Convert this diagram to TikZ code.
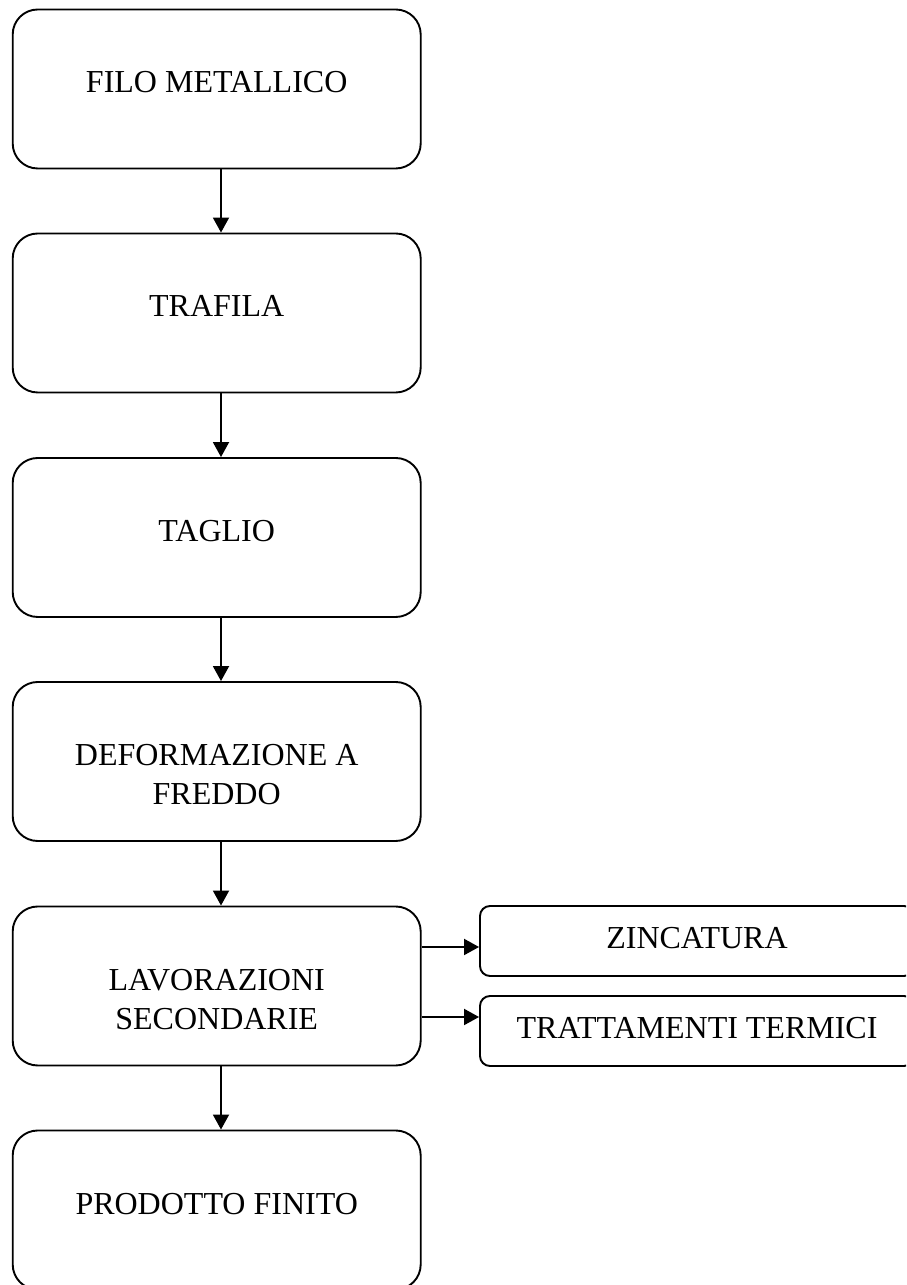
\documentclass[tikz,border=0pt]{standalone}
\usepackage{fontspec}
\setmainfont{Liberation Serif}
\usetikzlibrary{arrows.meta,calc}
\begin{document}
\begin{tikzpicture}[x=1pt,y=1pt,
  mainbox/.style={draw, line width=1.9pt, rounded corners=25pt, minimum width=408pt, minimum height=159pt, inner sep=0pt},
  sidebox/.style={draw, line width=1.9pt, rounded corners=10pt, minimum width=434pt, minimum height=70pt, inner sep=0pt, text height=16pt, text depth=0pt},
  txt/.style={inner sep=0pt, align=center, anchor=base},
  arr/.style={line width=1.9pt, -{Triangle[width=16pt,length=15pt]}},
  every node/.style={font=\fontsize{32}{39}\selectfont}
]
\clip (0,0) rectangle (906,1285);
\fill[white] (0,0) rectangle (906,1285);

\node[mainbox] (b1) at (216.7,1196) {};
\node[mainbox] (b2) at (216.7,972) {};
\node[mainbox] (b3) at (216.7,747.5) {};
\node[mainbox] (b4) at (216.7,523.5) {};
\node[mainbox] (b5) at (216.7,299) {};
\node[mainbox] (b6) at (216.7,75) {};

\node[txt] (t1) at ([yshift=-84pt]b1.north) {FILO METALLICO};
\node[txt] (t2) at ([yshift=-84pt]b2.north) {TRAFILA};
\node[txt] (t3) at ([yshift=-84pt]b3.north) {TAGLIO};
\node[txt] (t4) at ([yshift=-123pt]b4.north) {DEFORMAZIONE A\\FREDDO};
\node[txt] (t5) at ([yshift=-124pt]b5.north) {LAVORAZIONI\\SECONDARIE};
\node[txt] (t6) at ([yshift=-85pt]b6.north) {PRODOTTO FINITO};

\node[sidebox] (z) at (697,344) {ZINCATURA};
\node[sidebox] (tt) at (697,254) {TRATTAMENTI TERMICI};

\foreach \a/\b in {b1/b2,b2/b3,b3/b4,b4/b5,b5/b6}
  \draw[arr] ([xshift=4.3pt]\a.south) -- ([xshift=4.3pt]\b.north);

\coordinate (zin) at ([yshift=-6pt]z.west);
\coordinate (tin) at ([yshift=14pt]tt.west);
\draw[arr] (b5.east |- zin) -- (zin);
\draw[arr] (b5.east |- tin) -- (tin);
\end{tikzpicture}
\end{document}
